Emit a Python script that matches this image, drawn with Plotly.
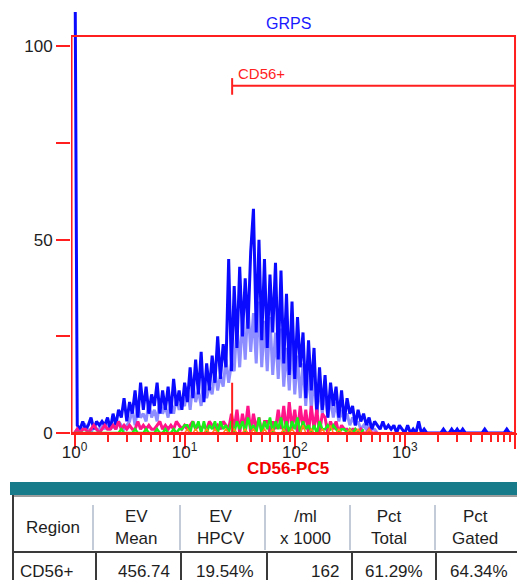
import math
import plotly.graph_objects as go

# ---------------- data ----------------
channels_per_decade = 40          # histogram channel spacing on the log axis

# blue: GRPS population (first channel is an off-scale pile-up at x = 1)
blue_counts = [150,
    2, 1, 3, 1, 2, 4, 1, 3, 2,
    3, 2, 4, 1, 5, 2, 6,
    4, 9, 3, 8, 5, 11, 4, 13,
    6, 12, 5, 10, 7, 13, 5, 11, 6,
    12, 5, 14, 7, 11, 6, 13, 8,
    17, 9, 19, 10,
    21, 8, 18, 11, 20,
    13, 25, 14, 23,
    17, 45, 16,
    38, 22, 43, 25, 40,
    27, 47, 58, 26, 50,
    24, 45, 22, 41, 26, 44,
    19, 42, 18, 36,
    15, 34, 14, 30, 17,
    26, 9, 24, 11, 22,
    5, 17, 6, 15, 4, 13, 7,
    12, 4, 11, 3, 9, 5,
    7, 2, 6, 3, 5, 2, 4,
    1, 3, 2, 1, 3, 1, 2, 1, 2,
    0, 2, 1, 0, 2, 0, 1, 0, 3, 0, 1, 0, 0,
    0, 0, 0, 0, 1, 0, 0, 1, 0, 1, 0, 1, 0, 0, 0, 0, 0, 0, 0, 1, 0, 0, 0, 0, 0, 0, 0, 1, 0, 0]

# light blue overlay
lightblue_counts = [
    0, 1, 0, 1, 2, 1, 0, 2, 1, 1, 2, 1, 3, 1, 2, 1, 3, 2, 1, 2,
    3, 6, 2, 7, 4, 5, 3, 8, 4, 6, 3, 9, 5, 7, 4, 8, 5, 9, 6, 8,
    7, 12, 6, 13, 8, 11, 7, 14, 9, 12, 10, 16, 11, 15, 12, 19, 13, 18,
    16, 28, 17, 30, 19, 33, 21, 31, 18, 34, 17, 29, 16, 30, 15, 26, 14, 27, 12, 22,
    11, 24, 10, 20, 9, 18, 7, 17, 6, 15, 5, 12, 5, 11, 4, 9, 4, 8, 3, 6, 3, 5, 2,
    4, 2, 3, 1, 2, 1, 2, 1, 1, 0]

# magenta population
magenta_counts = [
    0, 1, 0, 1, 1, 0, 1, 2, 1, 0, 1, 2, 1, 1, 2, 1, 3, 1, 2, 1,
    2, 1, 1, 3, 1, 2, 1, 2, 1, 1, 2, 3, 1, 2, 1, 2, 1, 3, 2, 1,
    2, 1, 2, 3, 1, 2, 1, 2, 1, 3, 2, 1, 2, 1, 3, 2, 1,
    5, 1, 6, 0, 5, 1, 7, 0, 5, 1, 4, 0, 3,
    3, 0, 3, 1,
    6, 1, 7, 0, 8, 1, 6, 0, 7, 1, 6, 0, 7, 1, 6, 0, 5,
    4, 0, 3, 1, 3, 0, 2, 1,
    1, 0, 1, 1, 0, 1, 0, 0, 1, 0, 0, 0]

# green population
green_counts = [
    0, 0, 0, 0, 0, 0, 0, 0, 0, 0, 0, 0, 0, 0, 0,
    0, 0, 1, 0, 0, 0, 0, 1, 0, 0, 0, 1, 0, 0, 0, 1, 0, 0, 1, 0, 0, 1, 0, 1, 1, 2,
    2, 0, 3, 1, 3, 0, 3, 0, 2, 1, 3, 0, 3, 1, 2, 0, 3, 0, 3, 1,
    3, 0, 4, 1, 2, 0, 4, 0, 3, 1, 4, 0, 3, 1, 4, 0, 3, 0, 3, 1, 4, 0, 3, 1, 2, 0, 2, 0, 3, 1,
    1, 2, 1, 2, 1, 0, 1, 1, 0, 1, 0, 1, 0, 0, 1]

# orange specks (start at channel 40)
orange_first_channel = 40
orange_counts = [
    0, 1, 0, 0, 1, 0, 0, 0, 1, 0, 0, 1, 0, 0, 0, 1, 0, 0, 1, 0,
    0, 0, 1, 0, 0, 1, 0, 0, 0, 1, 0, 0, 1, 0, 0, 0, 1, 0, 0, 1,
    0, 0, 0, 2, 0, 0, 1, 0, 0, 0, 1, 0, 0, 2, 0, 0, 1, 0, 0, 0,
    1, 0, 0, 1, 0, 0, 0, 1, 0, 0, 0]

# red gate-edge spike of the CD56+ population
red_spike_x = [27.0, 27.0]
red_spike_y = [0, 13]

# gates
grps_gate = dict(x0=0.94, x1=10000, y_top=102.7, label="GRPS", label_x=88, label_y=106)
cd56_gate = dict(x0=27.0, x1=10000, y=89.8, bar_lo=87.5, bar_hi=91.8,
                 label="CD56+", label_x=29.3, label_y=93.1)

# axes
y_range = [0, 108.9]
y_tickvals = [0, 25, 50, 75, 100]
y_ticktext = ["0", "", "50", "", "100"]
x_log_range = [-0.0318, 4.018]
x_tickvals = [1, 10, 100, 1000, 10000]
x_ticktext = ["10<sup>0</sup>", "10<sup>1</sup>", "10<sup>2</sup>", "10<sup>3</sup>", "10<sup>4</sup>"]
x_minor_mult = [2, 3, 4, 5, 6, 7, 8, 9]
x_title = "CD56-PC5"

# statistics table
table_headers = ["Region", "EV<br>Mean", "EV<br>HPCV", "/ml<br>x 1000", "Pct<br>Total", "Pct<br>Gated"]
table_row = ["CD56+", "456.74", "19.54%", "162", "61.29%", "64.34%"]

# ---------------- styling ----------------
W, H = 517, 580
L, R, T, B = 71, 517, 12, 433          # plot area in pixels
FONT = "Liberation Sans, Arial, sans-serif"
RED = "#ff1f1f"
BLUE = "#0a0aff"
LIGHTBLUE = "#8d8dff"
MAGENTA = "#ff1489"
GREEN = "#19f019"
ORANGE = "#ff8a1a"
TEXT = "#1e1e1e"


def px_x(p):
    return (p - L) / (R - L)


def px_y(p):
    return (B - p) / (B - T)


def chan_x(start, n):
    return [10 ** ((start + i) / channels_per_decade) for i in range(n)]


fig = go.Figure()


def add_hist(counts, color, start=0, width=3):
    fig.add_trace(go.Scatter(
        x=chan_x(start, len(counts)), y=counts, mode="lines",
        line=dict(color=color, width=width),
        hoverinfo="skip", showlegend=False))


add_hist(lightblue_counts, LIGHTBLUE, width=3)
add_hist(blue_counts, BLUE, width=3)
add_hist(magenta_counts, MAGENTA, width=3)
add_hist(green_counts, GREEN, width=2.5)
add_hist(orange_counts, ORANGE, start=orange_first_channel, width=1.5)
fig.add_trace(go.Scatter(x=red_spike_x, y=red_spike_y, mode="lines",
                         line=dict(color=RED, width=2), hoverinfo="skip", showlegend=False))

shapes = []
# GRPS gate rectangle
shapes.append(dict(type="rect", xref="x", yref="y", x0=grps_gate["x0"], x1=grps_gate["x1"],
                   y0=0, y1=grps_gate["y_top"], line=dict(color=RED, width=2)))
# CD56+ marker gate
shapes.append(dict(type="line", xref="x", yref="y", x0=cd56_gate["x0"], x1=cd56_gate["x1"],
                   y0=cd56_gate["y"], y1=cd56_gate["y"], line=dict(color=RED, width=2)))
shapes.append(dict(type="line", xref="x", yref="y", x0=cd56_gate["x0"], x1=cd56_gate["x0"],
                   y0=cd56_gate["bar_lo"], y1=cd56_gate["bar_hi"], line=dict(color=RED, width=2)))

# ---- table (pixel geometry converted to paper coordinates) ----
shapes.append(dict(type="rect", xref="paper", yref="paper", x0=px_x(10), x1=px_x(517),
                   y0=px_y(495), y1=px_y(482), fillcolor="#187b8a", line=dict(width=0), layer="above"))
shapes.append(dict(type="rect", xref="paper", yref="paper", x0=px_x(13), x1=px_x(517),
                   y0=px_y(585), y1=px_y(495), fillcolor="#ffffff", line=dict(width=0), layer="above"))
shapes.append(dict(type="line", xref="paper", yref="paper", x0=px_x(13), x1=px_x(13),
                   y0=px_y(585), y1=px_y(495), line=dict(color="#3a3a3a", width=2)))
shapes.append(dict(type="line", xref="paper", yref="paper", x0=px_x(13), x1=px_x(517),
                   y0=px_y(496), y1=px_y(496), line=dict(color="#3a3a3a", width=1)))
shapes.append(dict(type="line", xref="paper", yref="paper", x0=px_x(13), x1=px_x(517),
                   y0=px_y(552), y1=px_y(552), line=dict(color="#3a3a3a", width=2)))
for sx in [93, 180, 265, 350, 435]:
    shapes.append(dict(type="line", xref="paper", yref="paper", x0=px_x(sx), x1=px_x(sx),
                       y0=px_y(550), y1=px_y(505), line=dict(color="#c4cbd8", width=2)))
for sx in [96, 181, 267, 352, 436]:
    shapes.append(dict(type="line", xref="paper", yref="paper", x0=px_x(sx), x1=px_x(sx),
                       y0=px_y(585), y1=px_y(552), line=dict(color="#3a3a3a", width=2)))

annotations = []
# annotations on a log axis take log10 positions
annotations.append(dict(x=math.log10(grps_gate["label_x"]), y=grps_gate["label_y"], xref="x", yref="y",
                        text=grps_gate["label"], showarrow=False, xanchor="center", yanchor="middle",
                        font=dict(family=FONT, size=16, color="#1a1aff")))
annotations.append(dict(x=math.log10(cd56_gate["label_x"]), y=cd56_gate["label_y"], xref="x", yref="y",
                        text=cd56_gate["label"], showarrow=False, xanchor="left", yanchor="middle",
                        font=dict(family=FONT, size=15, color=RED)))
annotations.append(dict(x=px_x(288), y=px_y(468), xref="paper", yref="paper", text="<b>%s</b>" % x_title,
                        showarrow=False, xanchor="center", yanchor="middle",
                        font=dict(family=FONT, size=17, color="#ee0000")))
for cx, txt in zip([52.5, 136, 221, 305, 389, 475], table_headers):
    annotations.append(dict(x=px_x(cx), y=px_y(527), xref="paper", yref="paper", text=txt,
                            showarrow=False, xanchor="center", yanchor="middle",
                            font=dict(family=FONT, size=17, color=TEXT)))
annotations.append(dict(x=px_x(18), y=px_y(571), xref="paper", yref="paper", text=table_row[0],
                        showarrow=False, xanchor="left", yanchor="middle",
                        font=dict(family=FONT, size=17, color=TEXT)))
for rx, txt in zip([172, 256, 341, 425, 510], table_row[1:]):
    annotations.append(dict(x=px_x(rx), y=px_y(571), xref="paper", yref="paper", text=txt,
                            showarrow=False, xanchor="right", yanchor="middle",
                            font=dict(family=FONT, size=17, color=TEXT)))

fig.update_layout(
    width=W, height=H,
    margin=dict(l=L, r=W - R, t=T, b=H - B, pad=0),
    paper_bgcolor="white", plot_bgcolor="white",
    font=dict(family=FONT, size=17, color=TEXT),
    showlegend=False,
    shapes=shapes, annotations=annotations,
    xaxis=dict(type="log", range=x_log_range, tickmode="array", tickvals=x_tickvals,
               ticktext=x_ticktext, ticks="outside", ticklen=14, tickwidth=2, tickcolor=RED,
               ticklabelstandoff=-11,
               showline=True, linecolor=RED, linewidth=2, showgrid=False, zeroline=False,
               tickfont=dict(family=FONT, size=17, color=TEXT),
               minor=dict(tickmode="array",
                          tickvals=[m * d for d in x_tickvals[:-1] for m in x_minor_mult],
                          ticks="outside", ticklen=7, tickwidth=2, tickcolor=RED, showgrid=False)),
    yaxis=dict(range=y_range, tickmode="array", tickvals=y_tickvals, ticktext=y_ticktext,
               ticks="outside", ticklen=14, tickwidth=2, tickcolor=RED,
               showline=False, showgrid=False, zeroline=False,
               tickfont=dict(family=FONT, size=17, color=TEXT)),
)

fig.write_html("out.html", config={"displayModeBar": False},
               post_script="document.body.style.margin='0';")
